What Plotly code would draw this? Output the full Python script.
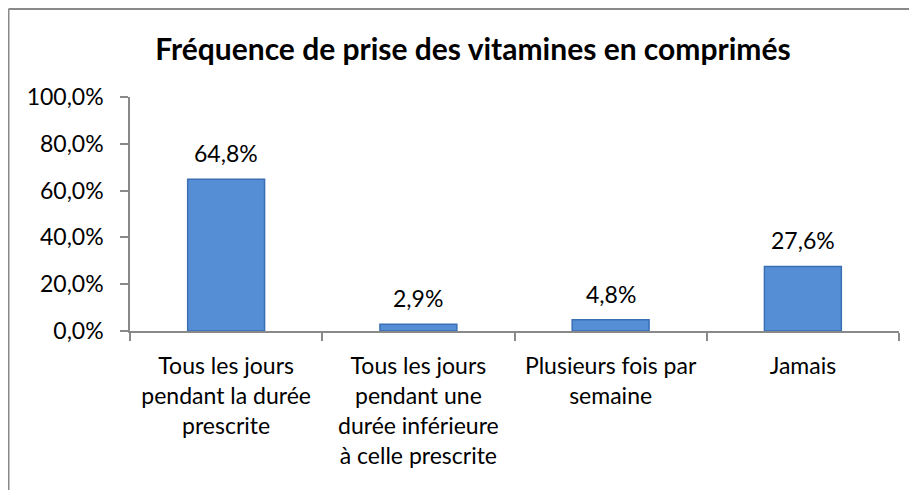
import plotly.graph_objects as go

categories = [
    "Tous les jours<br>pendant la durée<br>prescrite",
    "Tous les jours<br>pendant une<br>durée inférieure<br>à celle prescrite",
    "Plusieurs fois par<br>semaine",
    "Jamais",
]
values = [0.648, 0.029, 0.048, 0.276]
labels = ["64,8%", "2,9%", "4,8%", "27,6%"]
y_ticks = [0, 0.2, 0.4, 0.6, 0.8, 1.0]

FONT = "Lato, Calibri, Carlito, sans-serif"

fig = go.Figure()
fig.add_trace(go.Bar(
    x=categories,
    y=values,
    marker=dict(color="#558ED5", line=dict(color="#3B6FB3", width=1.5)),
    hoverinfo="skip",
))

for c, v, t in zip(categories, values, labels):
    fig.add_annotation(x=c, y=v, text=t, showarrow=False, yanchor="bottom",
                       yshift=10, font=dict(family=FONT, size=23, color="#000000"))

fig.update_layout(
    width=917, height=490,
    margin=dict(l=122, r=26, t=89, b=167),
    plot_bgcolor="white", paper_bgcolor="white",
    separators=", ",
    bargap=0.6,
    showlegend=False,
    title=dict(text="<b>Fréquence de prise des vitamines en comprimés</b>",
               x=0.507, xanchor="center", y=0.916, yanchor="middle",
               font=dict(family=FONT, size=30, color="#000000")),
    font=dict(family=FONT, size=23, color="#000000"),
)
fig.update_yaxes(
    range=[0, 1.0], tickvals=y_ticks, tickformat=".1%",
    showgrid=False, zeroline=False,
    showline=True, linecolor="#898989", linewidth=1.5,
    ticks="outside", ticklen=8, tickcolor="#898989", tickwidth=1.5,
    tickfont=dict(family=FONT, size=23), ticklabelstandoff=12,
)
fig.update_xaxes(
    showgrid=False, showline=True, linecolor="#898989", linewidth=1.5,
    ticks="outside", tickson="boundaries", ticklen=8, tickcolor="#898989", tickwidth=1.5,
    tickfont=dict(family=FONT, size=23), ticklabelstandoff=14,
)

# outer chart border (left and top visible)
fig.add_shape(type="line", xref="paper", yref="paper", x0=-0.158, x1=-0.158, y0=1.376, y1=-1.0,
              line=dict(color="#898989", width=2))
fig.add_shape(type="line", xref="paper", yref="paper", x0=-0.158, x1=1.2, y0=1.376, y1=1.376,
              line=dict(color="#898989", width=2))

fig.write_html("out.html")
